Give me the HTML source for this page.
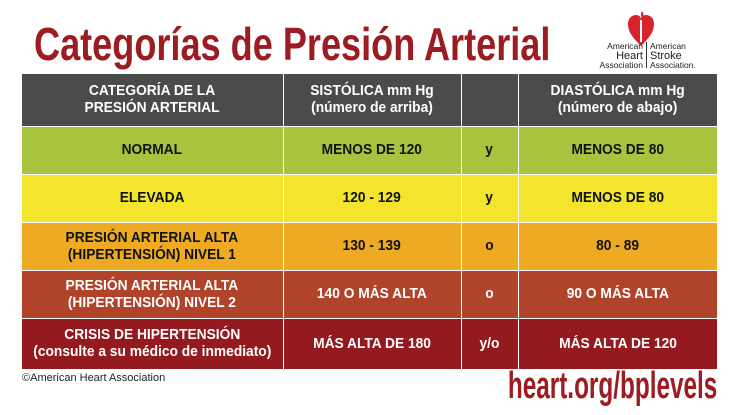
<!DOCTYPE html>
<html><head><meta charset="utf-8"><style>
body{margin:0;width:739px;height:415px;background:#fff;position:relative;overflow:hidden;font-family:"Liberation Sans",sans-serif;}
.t{position:absolute;left:34px;top:17px;font-size:46px;font-weight:bold;color:#9c1c22;white-space:nowrap;transform:scaleX(0.785);transform-origin:left top}
table{position:absolute;left:22px;top:74px;width:695px;border-collapse:collapse;table-layout:fixed}
td{border:1.5px solid #fff;text-align:center;font-weight:bold;font-size:14.5px;line-height:17px;padding:0;white-space:nowrap}
td span{display:inline-block;transform:scaleX(0.95)}
tr{height:48px}
.h td{background:#4b4b4a;color:#fff;height:52px;border-top:none}
.g td{background:#a8c43e;color:#111}
.y td{background:#f2e52b;color:#111}
.o td{background:#edaa22;color:#111}
.r td{background:#b1432a;color:#fff}
.d td{background:#951a20;color:#fff;height:50px}
td:first-child{border-left:none} td:last-child{border-right:none}
.c{position:absolute;left:22px;top:372px;font-size:11px;color:#222}
.u{position:absolute;right:22px;top:365px;font-size:38px;font-weight:bold;color:#9c1c22;transform:scaleX(0.64);transform-origin:right top;white-space:nowrap}
.lg{position:absolute;font-size:8.5px;line-height:9.5px;color:#222}
</style></head><body>
<div class="t">Categorías de Presión Arterial</div>
<svg style="position:absolute;left:627px;top:10px" width="28" height="38" viewBox="0 0 28 38">
<path d="M14 36 C6 28 1 22 1 14 C1 8 5 5 9 5 C12 5 14 7 14 9 C14 7 16 5 19 5 C23 5 27 8 27 14 C27 22 22 28 14 36Z" fill="#d8232a"/>
<rect x="13" y="10" width="2" height="22" fill="#fff"/><path d="M15 1 q3 3 0 7 q-2-3 0-7z" fill="#d8232a"/></svg>
<div class="lg" style="left:595px;top:42px;text-align:right;width:48px">American<br><span style="font-size:11px">Heart</span><br>Association</div>
<div style="position:absolute;left:646px;top:42px;width:1px;height:26px;background:#333"></div>
<div class="lg" style="left:650px;top:42px">American<br><span style="font-size:11px">Stroke</span><br>Association.</div>
<table>
<colgroup><col style="width:261px"><col style="width:178px"><col style="width:57px"><col style="width:199px"></colgroup>
<tr class="h"><td><span>CATEGORÍA DE LA<br>PRESIÓN ARTERIAL</span></td><td><span>SISTÓLICA mm Hg<br>(número de arriba)</span></td><td></td><td><span>DIASTÓLICA mm Hg<br>(número de abajo)</span></td></tr>
<tr class="g"><td><span>NORMAL</span></td><td><span>MENOS DE 120</span></td><td><span>y</span></td><td><span>MENOS DE 80</span></td></tr>
<tr class="y"><td><span>ELEVADA</span></td><td><span>120 - 129</span></td><td><span>y</span></td><td><span>MENOS DE 80</span></td></tr>
<tr class="o"><td><span>PRESIÓN ARTERIAL ALTA<br>(HIPERTENSIÓN) NIVEL 1</span></td><td><span>130 - 139</span></td><td><span>o</span></td><td><span>80 - 89</span></td></tr>
<tr class="r"><td><span>PRESIÓN ARTERIAL ALTA<br>(HIPERTENSIÓN) NIVEL 2</span></td><td><span>140 O MÁS ALTA</span></td><td><span>o</span></td><td><span>90 O MÁS ALTA</span></td></tr>
<tr class="d"><td><span>CRISIS DE HIPERTENSIÓN<br>(consulte a su médico de inmediato)</span></td><td><span>MÁS ALTA DE 180</span></td><td><span>y/o</span></td><td><span>MÁS ALTA DE 120</span></td></tr>
</table>
<div class="c">©American Heart Association</div>
<div class="u">heart.org/bplevels</div>
</body></html>
